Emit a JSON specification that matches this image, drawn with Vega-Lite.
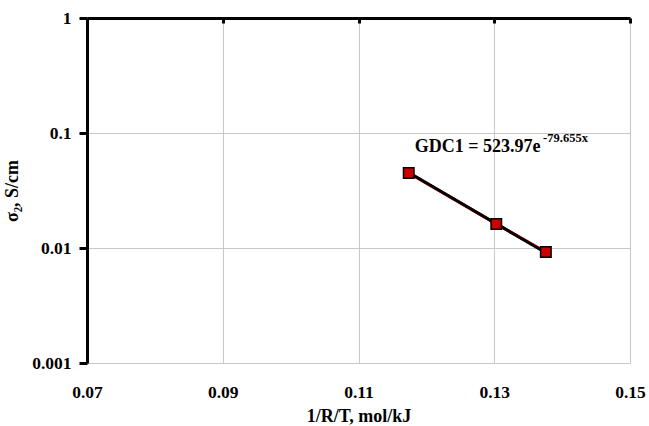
{
  "$schema": "https://vega.github.io/schema/vega-lite/v6.json",
  "width": 543,
  "height": 345,
  "autosize": "none",
  "padding": {"left": 87, "top": 18, "right": 19, "bottom": 63},
  "background": "white",
  "config": {
    "view": {"stroke": null},
    "font": "Liberation Serif"
  },
  "datasets": {
    "pts": [
      {"x": 0.1174, "y": 0.0449},
      {"x": 0.1303, "y": 0.0162},
      {"x": 0.1376, "y": 0.00923}
    ],
    "trend": [
      {"x": 0.1174, "y": 0.0454},
      {"x": 0.1376, "y": 0.00908}
    ],
    "ann": [
      {"x": 0.1183, "y": 0.0755, "t": "GDC1 = 523.97e", "kind": "main"},
      {"x": 0.1372, "y": 0.0905, "t": "-79.655x", "kind": "sup"}
    ]
  },
  "layer": [
    {
      "data": {"name": "pts"},
      "mark": {"type": "line", "color": "#e00000", "strokeWidth": 3},
      "encoding": {
        "x": {
          "field": "x", "type": "quantitative",
          "scale": {"domain": [0.07, 0.15], "nice": false, "zero": false},
          "axis": {
            "orient": "bottom",
            "values": [0.07, 0.09, 0.11, 0.13, 0.15],
            "format": ".2f",
            "domain": false,
            "ticks": false,
            "grid": true,
            "gridColor": "#c8c8c8",
            "gridWidth": 1,
            "labelFont": "Liberation Serif",
            "labelFontWeight": "bold",
            "labelFontSize": 17.5,
            "labelColor": "black",
            "labelPadding": 20,
            "labelFlush": false,
            "title": "1/R/T, mol/kJ",
            "titleFont": "Liberation Serif",
            "titleFontWeight": "bold",
            "titleFontSize": 18,
            "titleColor": "black",
            "titlePadding": 7
          }
        },
        "y": {
          "field": "y", "type": "quantitative",
          "scale": {"type": "log", "domain": [0.001, 1], "nice": false},
          "axis": {
            "values": [0.001, 0.01, 0.1, 1],
            "format": "~g",
            "domain": true,
            "domainColor": "black",
            "domainWidth": 3,
            "ticks": true,
            "tickColor": "black",
            "tickWidth": 3,
            "tickSize": 8,
            "grid": true,
            "gridColor": "#c8c8c8",
            "gridWidth": 1,
            "labelFont": "Liberation Serif",
            "labelFontWeight": "bold",
            "labelFontSize": 17.5,
            "labelColor": "black",
            "labelPadding": 8,
            "labelFlush": false,
            "title": "σ₂, S/cm",
            "titleFont": "Liberation Serif",
            "titleFontWeight": "bold",
            "titleFontSize": 18,
            "titleColor": "black",
            "titlePadding": 10
          }
        }
      }
    },
    {
      "data": {"name": "trend"},
      "mark": {"type": "line", "color": "black", "strokeWidth": 3},
      "encoding": {
        "x": {"field": "x", "type": "quantitative", "axis": null},
        "y": {"field": "y", "type": "quantitative"}
      }
    },
    {
      "data": {"name": "pts"},
      "mark": {"type": "point", "shape": "square", "filled": true, "fill": "#cc0000", "stroke": "black", "strokeWidth": 1.5, "size": 110, "opacity": 1},
      "encoding": {
        "x": {"field": "x", "type": "quantitative", "axis": null},
        "y": {"field": "y", "type": "quantitative"}
      }
    },
    {
      "data": {"name": "ann"},
      "transform": [{"filter": "datum.kind == 'main'"}],
      "mark": {"type": "text", "align": "left", "baseline": "middle", "font": "Liberation Serif", "fontWeight": "bold", "fontSize": 18, "color": "black"},
      "encoding": {
        "x": {"field": "x", "type": "quantitative", "axis": null},
        "y": {"field": "y", "type": "quantitative"},
        "text": {"field": "t"}
      }
    },
    {
      "data": {"name": "ann"},
      "transform": [{"filter": "datum.kind == 'sup'"}],
      "mark": {"type": "text", "align": "left", "baseline": "middle", "font": "Liberation Serif", "fontWeight": "bold", "fontSize": 12.5, "color": "black"},
      "encoding": {
        "x": {"field": "x", "type": "quantitative", "axis": null},
        "y": {"field": "y", "type": "quantitative"},
        "text": {"field": "t"}
      }
    },
    {
      "data": {"values": [{"x": 0.09}]},
      "mark": {"type": "rule", "opacity": 0},
      "encoding": {
        "x": {
          "field": "x", "type": "quantitative",
          "axis": {
            "orient": "top",
            "values": [0.07, 0.09, 0.11, 0.13, 0.15],
            "labels": false,
            "grid": false,
            "domain": true,
            "domainColor": "black",
            "domainWidth": 3,
            "ticks": true,
            "tickColor": "black",
            "tickWidth": 3,
            "tickSize": -5,
            "title": null
          }
        }
      }
    }
  ],
  "resolve": {"axis": {"x": "independent"}}
}
